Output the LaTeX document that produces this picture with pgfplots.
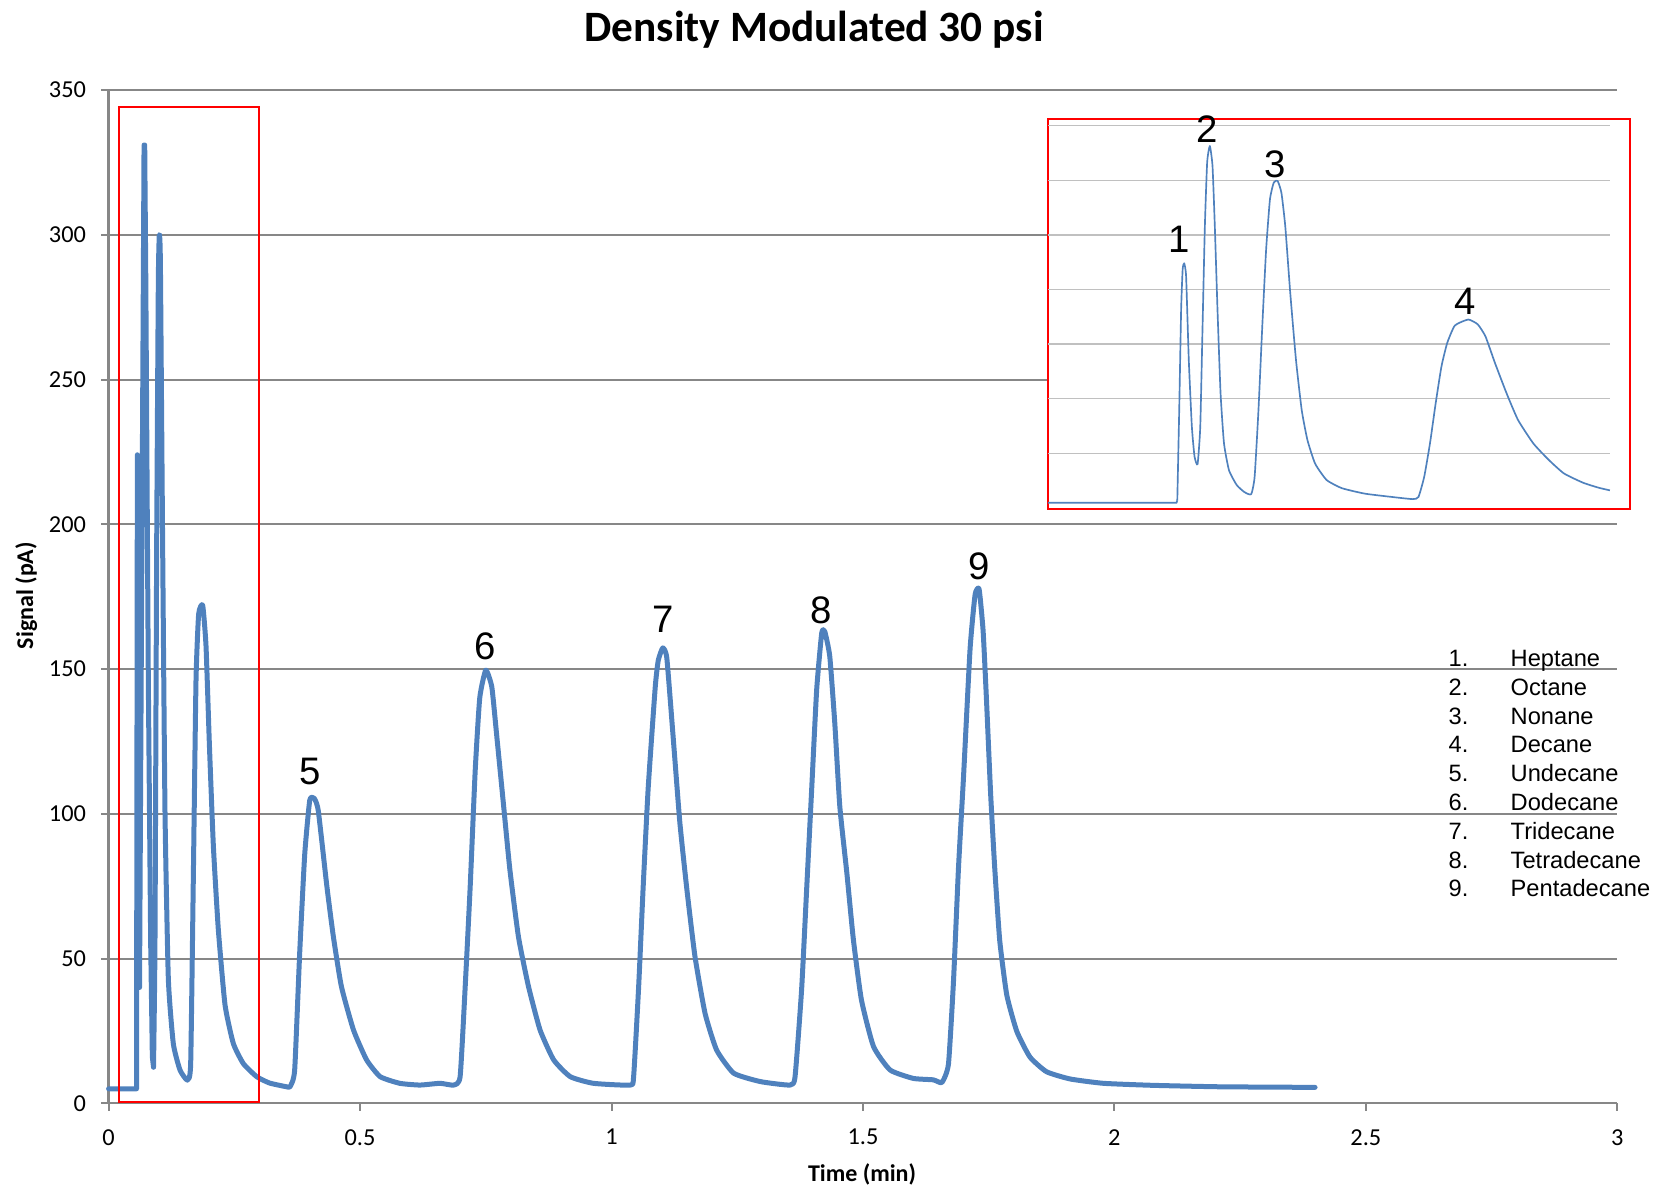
\documentclass[border=0pt]{standalone}
\usepackage{fontspec}
\setmainfont{Carlito}
\newfontfamily\arial{Liberation Sans}
\usepackage{pgfplots}
\pgfplotsset{compat=1.18}
\usepackage{pgfplotstable}

\definecolor{lineblue}{HTML}{4F81BD}
\definecolor{gridgray}{HTML}{878787}
\definecolor{insetgrid}{HTML}{C0C0C0}

% main trace, first part (sharp spikes of peaks 1-2): time (min), signal (pA)
\pgfplotstableread{
t v
0.000 5
0.0555 5
0.0572 224
0.0615 40
0.0705 331
0.0718 331
0.0740 284
0.0790 146
0.0837 55
0.0870 16
0.0893 12.5
}\mainfront

% main trace, rest
\pgfplotstableread{
t v
0.0893 12.5
0.0922 55
0.0956 192
0.0989 284
0.1009 300
0.1030 290
0.1075 192
0.1122 100
0.1188 43
0.1287 20.6
0.1420 11.5
0.1566 8
0.1632 13.7
0.1685 78
0.1738 146
0.1791 169
0.1871 172
0.1937 158
0.2004 124
0.2083 89
0.2182 60
0.2315 34
0.2481 20.6
0.2680 13.7
0.2945 9.2
0.3200 7
0.3541 5.7
0.3610 5.8
0.3700 11.5
0.3800 52
0.3900 86
0.4000 104.7
0.4090 105.3
0.4170 101
0.4340 75
0.4470 57.5
0.4630 40.3
0.4870 25.3
0.5130 15
0.5400 9.2
0.5790 6.9
0.6190 6.3
0.6590 6.9
0.6860 6.3
0.6990 9.2
0.7090 40
0.7190 74.8
0.7290 115
0.7380 140
0.7500 149.6
0.7620 143.8
0.7720 126.6
0.7850 103.6
0.7980 80.6
0.8150 57.5
0.8350 40.3
0.8580 25.3
0.8850 15
0.9180 9.2
0.9640 6.9
1.0370 6.3
1.0440 9.2
1.0540 40.3
1.0630 74.8
1.0730 109
1.0870 143.8
1.0930 153
1.1020 157.3
1.1100 153.8
1.1230 125.6
1.1360 96.8
1.1500 73.7
1.1660 50.7
1.1860 31.1
1.2090 18.4
1.2430 10.4
1.2960 7.5
1.3550 6.3
1.3650 9.2
1.3780 39.2
1.3880 73.7
1.3980 108.3
1.4080 142.9
1.4180 162.4
1.4240 163
1.4340 154.4
1.4440 131.3
1.4540 102.5
1.4680 79.5
1.4810 56.5
1.4970 35.7
1.5210 19.6
1.5540 11.5
1.6000 8.6
1.6400 8.1
1.6570 7.2
1.6700 13.5
1.6800 42
1.6900 81.4
1.7000 112.8
1.7130 156.9
1.7230 175.7
1.7310 177.6
1.7390 163
1.7460 138
1.7540 106.5
1.7620 81.4
1.7720 56.2
1.7860 37.4
1.8060 24.8
1.8320 16
1.8650 10.9
1.9120 8.4
1.9780 6.9
2.0770 6.2
2.2100 5.7
2.3990 5.5
}\mainrest

% zoomed inset of peaks 1-4 (arbitrary units)
\pgfplotstableread{
x y
0 0.092
336 0.092
338 0.14
}\insetbase
\pgfplotstableread{
x y
338 0.14
343 1.79
348 3.63
352 4.37
356 4.48
361 4.24
368 2.71
376 1.49
383 0.94
391 0.80
398 1.49
404 3.33
410 5.16
416 6.33
423 6.63
430 6.26
436 5.16
443 3.63
451 2.10
460 1.18
473 0.69
493 0.42
513 0.29
531 0.25
540 0.57
550 1.79
560 3.33
570 4.73
580 5.65
590 5.96
600 5.99
610 5.77
620 5.16
633 3.94
648 2.71
663 1.79
678 1.24
698 0.81
728 0.51
768 0.36
828 0.26
898 0.20
953 0.16
968 0.20
983 0.57
998 1.18
1013 1.92
1028 2.59
1043 3.02
1063 3.34
1098 3.45
1123 3.36
1143 3.14
1168 2.65
1198 2.10
1228 1.61
1268 1.18
1308 0.88
1348 0.63
1398 0.46
1438 0.37
1468 0.32
}\insetpeaks

\begin{document}
\begin{tikzpicture}
\useasboundingbox (0,0) rectangle (495.9pt,355.8pt);

\begin{axis}[
  at={(32.58pt,24.81pt)}, anchor=south west,
  width=452.61pt, height=303.99pt, scale only axis,
  xmin=0, xmax=3, ymin=0, ymax=350,
  xtick={0,0.5,...,3}, ytick={0,50,...,350},
  axis x line*=bottom, axis y line*=left,
  axis line style={-, draw=gridgray, line width=0.7pt},
  tick align=outside, major tick length=2.2pt,
  tick style={draw=gridgray, line width=0.6pt},
  ymajorgrids, grid style={draw=gridgray, line width=0.6pt},
  /pgf/number format/assume math mode=true,
  tick label style={font=\fontsize{7.3}{8}\selectfont},
  yticklabel style={anchor=east, inner sep=0pt, xshift=-4.4pt},
  xticklabel style={anchor=north, inner sep=0pt, yshift=-5.4pt},
  every axis title shift=0pt,
  title={Density Modulated 30 psi},
  title style={font=\fontsize{13}{15}\selectfont\bfseries, at={(0.4676,1.0597)}, anchor=center},
  xlabel={Time (min)},
  xlabel style={font=\fontsize{7.2}{8}\selectfont\bfseries, at={(0.4994,-0.0700)}, anchor=center},
  ylabel={Signal (pA)},
  ylabel style={font=\fontsize{7.2}{8}\selectfont\bfseries, at={(-0.0545,0.501)}, anchor=center},
  clip=false,
]
\addplot[lineblue, line width=1.5pt, line join=round, line cap=round] table[x=t, y=v] {\mainfront};
\addplot[lineblue, line width=1.5pt, line join=round, line cap=round, smooth, tension=0.3] table[x=t, y=v] {\mainrest};
\draw[red, line width=0.6pt] (axis cs:0.021,0.3) rectangle (axis cs:0.30,344);
\begin{scope}[font=\arial\fontsize{11.5}{13}\selectfont]
\node at (axis cs:0.4005,114.5) {5};
\node at (axis cs:0.7485,157.9) {6};
\node at (axis cs:1.1024,167.0) {7};
\node at (axis cs:1.4166,170.4) {8};
\node at (axis cs:1.7309,185.6) {9};
\end{scope}
\end{axis}

\begin{axis}[
  at={(314.37pt,203.04pt)}, anchor=south west,
  width=174.57pt, height=117.03pt, scale only axis,
  xmin=0, xmax=1520, ymin=-0.0245, ymax=7.122,
  ticks=none,
  axis line style={draw=red, line width=0.6pt},
  axis background/.style={fill=white},
  clip=false,
]
\pgfplotsinvokeforeach{1,...,7}{
  \draw[insetgrid, line width=0.4pt] (axis cs:0,#1) -- (axis cs:1468,#1);
}
\addplot[lineblue, line width=0.5pt, line join=round] table[x=x, y=y] {\insetbase};
\addplot[lineblue, line width=0.5pt, line join=round, smooth, tension=0.3] table[x=x, y=y] {\insetpeaks};
\begin{scope}[font=\arial\fontsize{11.5}{13}\selectfont]
\node at (axis cs:343,4.92) {1};
\node at (axis cs:415,6.94) {2};
\node at (axis cs:593,6.29) {3};
\node at (axis cs:1090,3.79) {4};
\end{scope}
\end{axis}

\begin{scope}[x=0.3pt, y=-0.3pt, shift={(0pt,355.8pt)},
  every node/.style={font=\arial\fontsize{7.1}{8}\selectfont, inner sep=0pt, anchor=base west}]
\foreach \n/\name [count=\k from 0] in {1/Heptane,2/Octane,3/Nonane,4/Decane,5/Undecane,6/Dodecane,7/Tridecane,8/Tetradecane,9/Pentadecane}{
  \node at (1448, 666.5+28.8*\k) {\n.};
  \node at (1510, 666.5+28.8*\k) {\name};
}
\end{scope}
\end{tikzpicture}
\end{document}
